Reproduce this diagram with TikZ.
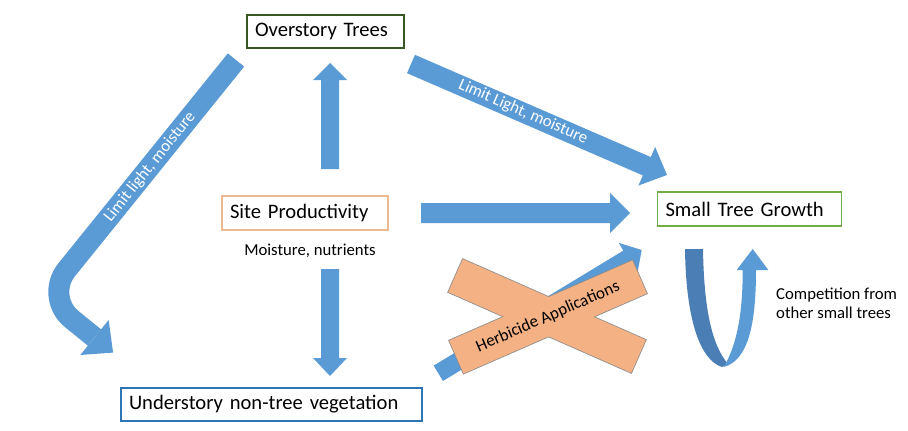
\documentclass[tikz,border=0pt]{standalone}
\usepackage{fontspec}
\setmainfont{Carlito}
\usetikzlibrary{calc}
\definecolor{arrowblue}{HTML}{5B9BD5}
\definecolor{darkarrow}{HTML}{4A7EB4}
\definecolor{herbfill}{HTML}{F4B183}
\definecolor{herbline}{HTML}{8C8C8C}
\definecolor{ovgreen}{HTML}{385723}
\definecolor{sitetan}{HTML}{EDB992}
\definecolor{undblue}{HTML}{2E75B6}
\definecolor{stgreen}{HTML}{70AD47}
\newcommand\blockarrow[5]{%
  \coordinate (bah) at ($(#2)!#5!(#1)$);
  \fill[arrowblue] ($(#1)!#3!90:(#2)$) -- ($(bah)!#3!90:(#2)$) -- ($(bah)!#4!90:(#2)$) -- (#2)
    -- ($(bah)!#4!-90:(#2)$) -- ($(bah)!#3!-90:(#2)$) -- ($(#1)!#3!-90:(#2)$) -- cycle;}
\tikzset{
  boxnode/.style={draw, line width=1.6pt, inner xsep=8pt, inner ysep=0pt, align=left,
    font=\fontsize{20.6}{24}\selectfont, fill=white},
  lbl/.style={font=\fontsize{16.7}{19.5}\selectfont, inner sep=0pt},
  arrowlbl/.style={lbl, text=white},
  herbbar/.style={draw=herbline, line width=1.6pt, fill=herbfill, minimum width=200pt,
    minimum height=36pt, inner sep=0pt, font=\fontsize{17}{20}\selectfont},
  herbfillonly/.style={herbbar, draw=none}
}
\begin{document}
\begin{tikzpicture}[x=1pt,y=-1pt]
\useasboundingbox (0,0) rectangle (908,431);
% boxes
\node[boxnode, draw=ovgreen, minimum height=33pt, text width=141pt] (over) at (325.5,31.5) {Overstory Trees};
\node[boxnode, draw=sitetan, minimum height=34pt, text width=150pt] (site) at (305,213) {Site Productivity};
\node[boxnode, draw=undblue, minimum height=33pt, text width=285pt] (under) at (271.5,404.5) {Understory non-tree vegetation};
\node[boxnode, draw=stgreen, minimum height=34pt, text width=168pt] (small) at (749.5,209) {Small Tree Growth};
\node[lbl] (moist) at (310,251) {Moisture, nutrients};
\node[lbl, align=left, anchor=west] (comp) at (776,303.5) {Competition from\\other small trees};
% straight block arrows
\coordinate (up-s) at (330,169); \coordinate (up-e) at (330,63);
\blockarrow{up-s}{up-e}{9pt}{17pt}{17pt}
\coordinate (dn-s) at (330,269); \coordinate (dn-e) at (330,376);
\blockarrow{dn-s}{dn-e}{9pt}{17pt}{18pt}
\coordinate (rt-s) at (421,213); \coordinate (rt-e) at (630,213);
\blockarrow{rt-s}{rt-e}{10pt}{20pt}{20pt}
\coordinate (dg-s) at (411,64); \coordinate (dg-e) at (667,175);
\blockarrow{dg-s}{dg-e}{10pt}{21pt}{22pt}
\node[arrowlbl, rotate=-23.5] (dglbl) at (523,112) {Limit Light, moisture};
\coordinate (ux-s) at (438.3,373.3); \coordinate (ux-e) at (641.7,250);
\blockarrow{ux-s}{ux-e}{9pt}{18pt}{16pt}
% bent arrow on the left
\coordinate (cl-s) at (236,60); \coordinate (cl-c) at (44.6,297.1);
\coordinate (cl-h) at (94.5,337.5); \coordinate (cl-t) at (113.1,352.6);
\draw[arrowblue, line width=21pt, rounded corners=35pt] (cl-s) -- (cl-c) -- (cl-h);
\fill[arrowblue] ($(cl-h)!22.5pt!90:(cl-t)$) -- (cl-t) -- ($(cl-h)!22.5pt!-90:(cl-t)$) -- cycle;
\node[arrowlbl, rotate=51.3] (cllbl) at (150,167) {Limit light, moisture};
% herbicide cross (one outline round the union of both bars)
\node[herbbar, rotate=-23.8] (herbB) at (547,316) {};
\node[herbbar, rotate=23.6] (herbA) at (548,317) {};
\node[herbfillonly, rotate=-23.8] (herbBf) at (547,316) {};
\node[herbfillonly, rotate=23.6] (herbAf) at (548,317) {Herbicide Applications};
% U-shaped arrow
\fill[darkarrow] (685,249) -- (703,249) .. controls (704,310) and (712,345) .. (728,364)
  -- (722,367) .. controls (700,360) and (686,320) .. (685,249) -- cycle;
\fill[arrowblue] (742.7,270) -- (736.7,270) -- (752.7,249) -- (768.3,270) -- (756,270)
  .. controls (756,325) and (748,360) .. (724,367) -- (726,363)
  .. controls (738,340) and (742.7,310) .. (742.7,270) -- cycle;
\end{tikzpicture}
\end{document}
